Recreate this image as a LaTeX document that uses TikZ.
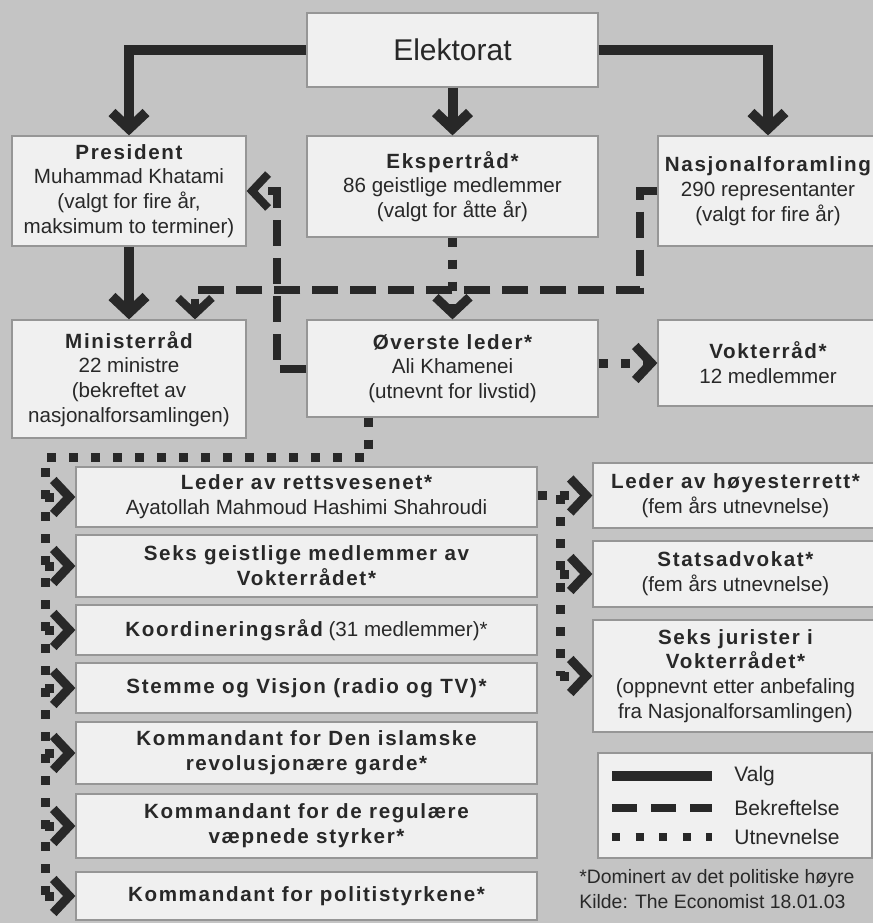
\documentclass[tikz,border=0pt]{standalone}
\usepackage{fontspec}
\setmainfont{Liberation Sans}
\newfontfamily\hdfamily{Liberation Sans}[LetterSpace=8]
\newcommand\hd{\hdfamily\bfseries}
\usetikzlibrary{arrows.meta}

\definecolor{bgray}{RGB}{196,196,196}
\definecolor{boxfill}{RGB}{240,240,240}
\definecolor{ink}{RGB}{40,40,40}
\definecolor{edge}{RGB}{150,150,150}

\tikzset{chev/.tip={Straight Barb[length=8pt,width=17pt,sharp]}}

\begin{document}
\begin{tikzpicture}[x=0.5pt,y=-0.5pt,
    box/.style={draw=edge, line width=0.6pt, fill=boxfill, text=ink, align=center, inner sep=0pt,
                font=\fontsize{10.3}{12.4}\selectfont},
    lbl/.style={anchor=west, inner sep=0pt, text=ink, font=\fontsize{10.5}{12.5}\selectfont},
    valg/.style={draw=ink, line width=5pt},
    bekr/.style={draw=ink, line width=4pt, dash pattern=on 13pt off 6pt},
    utn/.style={draw=ink, line width=4.5pt, dash pattern=on 4.5pt off 6.5pt}]

    \useasboundingbox (0,0) rectangle (873,923);
    \fill[bgray] (0,0) rectangle (873,923);

    % top rows
    \node[box, minimum width=145.5pt, minimum height=37pt, font=\fontsize{15}{18}\selectfont] (elek) at (452.5,50) {Elektorat};
    \node[box, minimum width=117pt, minimum height=55pt] (pres) at (129,191) {{\hd President}\\Muhammad Khatami\\(valgt for fire år,\\maksimum to terminer)};
    \node[box, minimum width=145.5pt, minimum height=50.5pt] (eksp) at (452.5,186.5) {{\hd Ekspertråd*}\\86 geistlige medlemmer\\(valgt for åtte år)};
    \node[box, minimum width=110pt, minimum height=55pt] (nasj) at (768,191) {{\hd Nasjonalforamling}\\290 representanter\\(valgt for fire år)};
    \node[box, minimum width=117pt, minimum height=59pt] (mini) at (129,379) {{\hd Ministerråd}\\22 ministre\\(bekreftet av\\nasjonalforsamlingen)};
    \node[box, minimum width=145.5pt, minimum height=48.5pt] (over) at (452.5,368.5) {{\hd Øverste leder*}\\Ali Khamenei\\(utnevnt for livstid)};
    \node[box, minimum width=110pt, minimum height=43pt] (vokt) at (768,363) {{\hd Vokterråd*}\\12 medlemmer};

    % left column
    \node[box, minimum width=230.5pt, minimum height=30pt] (ret) at (306.5,497) {{\hd Leder av rettsvesenet*}\\Ayatollah Mahmoud Hashimi Shahroudi};
    \node[box, minimum width=230.5pt, minimum height=31pt] (seks) at (306.5,566) {{\hd Seks geistlige medlemmer av}\\{\hd Vokterrådet*}};
    \node[box, minimum width=230.5pt, minimum height=25pt] (koor) at (306.5,630) {{\hd Koordineringsråd} (31 medlemmer)*};
    \node[box, minimum width=230.5pt, minimum height=25pt] (stem) at (306.5,688) {{\hd Stemme og Visjon (radio og TV)*}};
    \node[box, minimum width=230.5pt, minimum height=31pt] (kom1) at (306.5,753) {{\hd Kommandant for Den islamske}\\{\hd revolusjonære garde*}};
    \node[box, minimum width=230.5pt, minimum height=32pt] (kom2) at (306.5,826) {{\hd Kommandant for de regulære}\\{\hd væpnede styrker*}};
    \node[box, minimum width=230.5pt, minimum height=24pt] (kom3) at (306.5,896) {{\hd Kommandant for politistyrkene*}};

    % right column
    \node[box, minimum width=142.5pt, minimum height=32.5pt] (hoy) at (735.5,495.5) {{\hd Leder av høyesterrett*}\\(fem års utnevnelse)};
    \node[box, minimum width=142.5pt, minimum height=33pt] (stat) at (735.5,574) {{\hd Statsadvokat*}\\(fem års utnevnelse)};
    \node[box, minimum width=142.5pt, minimum height=56pt] (jur) at (735.5,676) {{\hd Seks jurister i}\\{\hd Vokterrådet*}\\(oppnevnt etter anbefaling\\fra Nasjonalforsamlingen)};

    % legend
    \node[box, minimum width=137pt, minimum height=52.5pt] (leg) at (735,805.5) {};
    \node[lbl] (lv) at (734,776) {Valg};
    \node[lbl] (lb) at (734,808) {Bekreftelse};
    \node[lbl] (lu) at (734,837) {Utnevnelse};
    \draw[valg] ([xshift=-61pt]lv.west) -- ([xshift=-11pt]lv.west);
    \draw[bekr, dash pattern=on 12.5pt off 7pt] ([xshift=-61pt]lb.west) -- ([xshift=-11pt]lb.west);
    \draw[utn, line width=4pt, dash pattern=on 4pt off 7.8pt] ([xshift=-61pt]lu.west) -- ([xshift=-11pt]lu.west);

    \node[anchor=north west, align=left, inner sep=0pt, text=ink, font=\fontsize{9.7}{12.5}\selectfont] (note) at (579,869) {*Dominert av det politiske høyre\\Kilde: The Economist 18.01.03};

    % valg
    \draw[valg, -chev] (elek.west) -| (pres.north);
    \draw[valg, -chev] (elek.south) -- (eksp.north);
    \draw[valg, -chev] (elek.east) -| (nasj.north);
    \draw[valg, -chev] (pres.south) -- (mini.north);

    % bekreftelse
    \coordinate (b1) at (640,290);
    \draw[bekr, -chev] (nasj.west) -| (b1) -| ([xshift=33pt]mini.north);
    \draw[bekr, -chev] (over.west) -- ++(-29,0) |- (pres.east);

    % utnevnelse
    \draw[utn, -chev] (eksp.south) -- (over.north);
    \draw[utn, -chev] (over.east |- vokt.west) -- (vokt.west);

    \coordinate (u1) at (45,457);
    \coordinate (u2) at (45,908);
    \draw[utn] ([xshift=-42pt]over.south) |- (u1) -- (u2);
    \foreach \b in {ret,seks,koor,stem,kom1,kom2,kom3}
        \draw[utn, -chev] (u1 |- \b.west) -- (\b.west);

    \coordinate (u3) at (560,495);
    \draw[utn, -chev] (ret.east |- hoy.west) -- (hoy.west);
    \draw[utn] (u3) -- (u3 |- jur.west);
    \foreach \b in {stat,jur}
        \draw[utn, -chev] (u3 |- \b.west) -- (\b.west);
\end{tikzpicture}
\end{document}
